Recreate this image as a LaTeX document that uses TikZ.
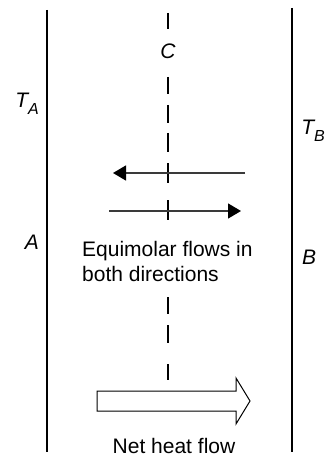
\documentclass[tikz,border=0pt]{standalone}
\usepackage{fontspec}
\setmainfont{Liberation Sans}
\usetikzlibrary{arrows.meta}
\definecolor{arrowgray}{HTML}{3A3A3A}
\tikzset{
  wall/.style={draw=black},
  dashseg/.style={draw=black, line width=1.2pt},
  flowarrow/.style={draw=arrowgray, line width=1.4pt, -{Triangle[length=13pt,width=15pt,color=black]}},
  lbl/.style={inner sep=0pt, font=\fontsize{21}{25}\selectfont},
  heatarrow/.style={draw=black, line width=1pt, fill=white, line join=miter}
}
\newcommand{\subT}[1]{\textit{T\raisebox{-0.32em}{\fontsize{16}{16}\selectfont #1}}}
\begin{document}
\begin{tikzpicture}[x=1pt,y=-1pt]
\useasboundingbox (0,0) rectangle (331,457);
% walls
\coordinate (wa1) at (47,10);
\coordinate (wa2) at (47,452);
\coordinate (wb1) at (292,8);
\coordinate (wb2) at (292,452);
\draw[wall, line width=2.3pt] (wa1) -- (wa2);
\draw[wall, line width=1.3pt] (wb1) -- (wb2);
% dashed centre line
\foreach \ya/\yb in {13/29, 77/94, 105/123, 133/152, 163/183, 200/220, 297/314, 325/343, 364/380}
  \draw[dashseg] (168,\ya) -- (168,\yb);
% labels
\node[lbl] (C) at (168,51) {\textit{C}};
\node[lbl] (TA) at (27,104) {\subT{A}};
\node[lbl] (TB) at (313,131) {\subT{B}};
\node[lbl] (A) at (32,242) {\textit{A}};
\node[lbl] (B) at (309,257) {\textit{B}};
% flow arrows
\coordinate (l1) at (245,173);
\coordinate (l2) at (113,173);
\coordinate (r1) at (109,211);
\coordinate (r2) at (241,211);
\draw[flowarrow] (l1) -- (l2);
\draw[flowarrow] (r1) -- (r2);
% text
\node[lbl, anchor=base west, align=left] (eq) at (82,281) {Equimolar flows in\\both directions};
% heat arrow
\draw[heatarrow] (97,391) -- (236,391) -- (236,378) -- (250,401) -- (236,424) -- (236,411) -- (97,411) -- cycle;
\node[lbl, anchor=base] (net) at (174,453) {Net heat flow};
\end{tikzpicture}
\end{document}
